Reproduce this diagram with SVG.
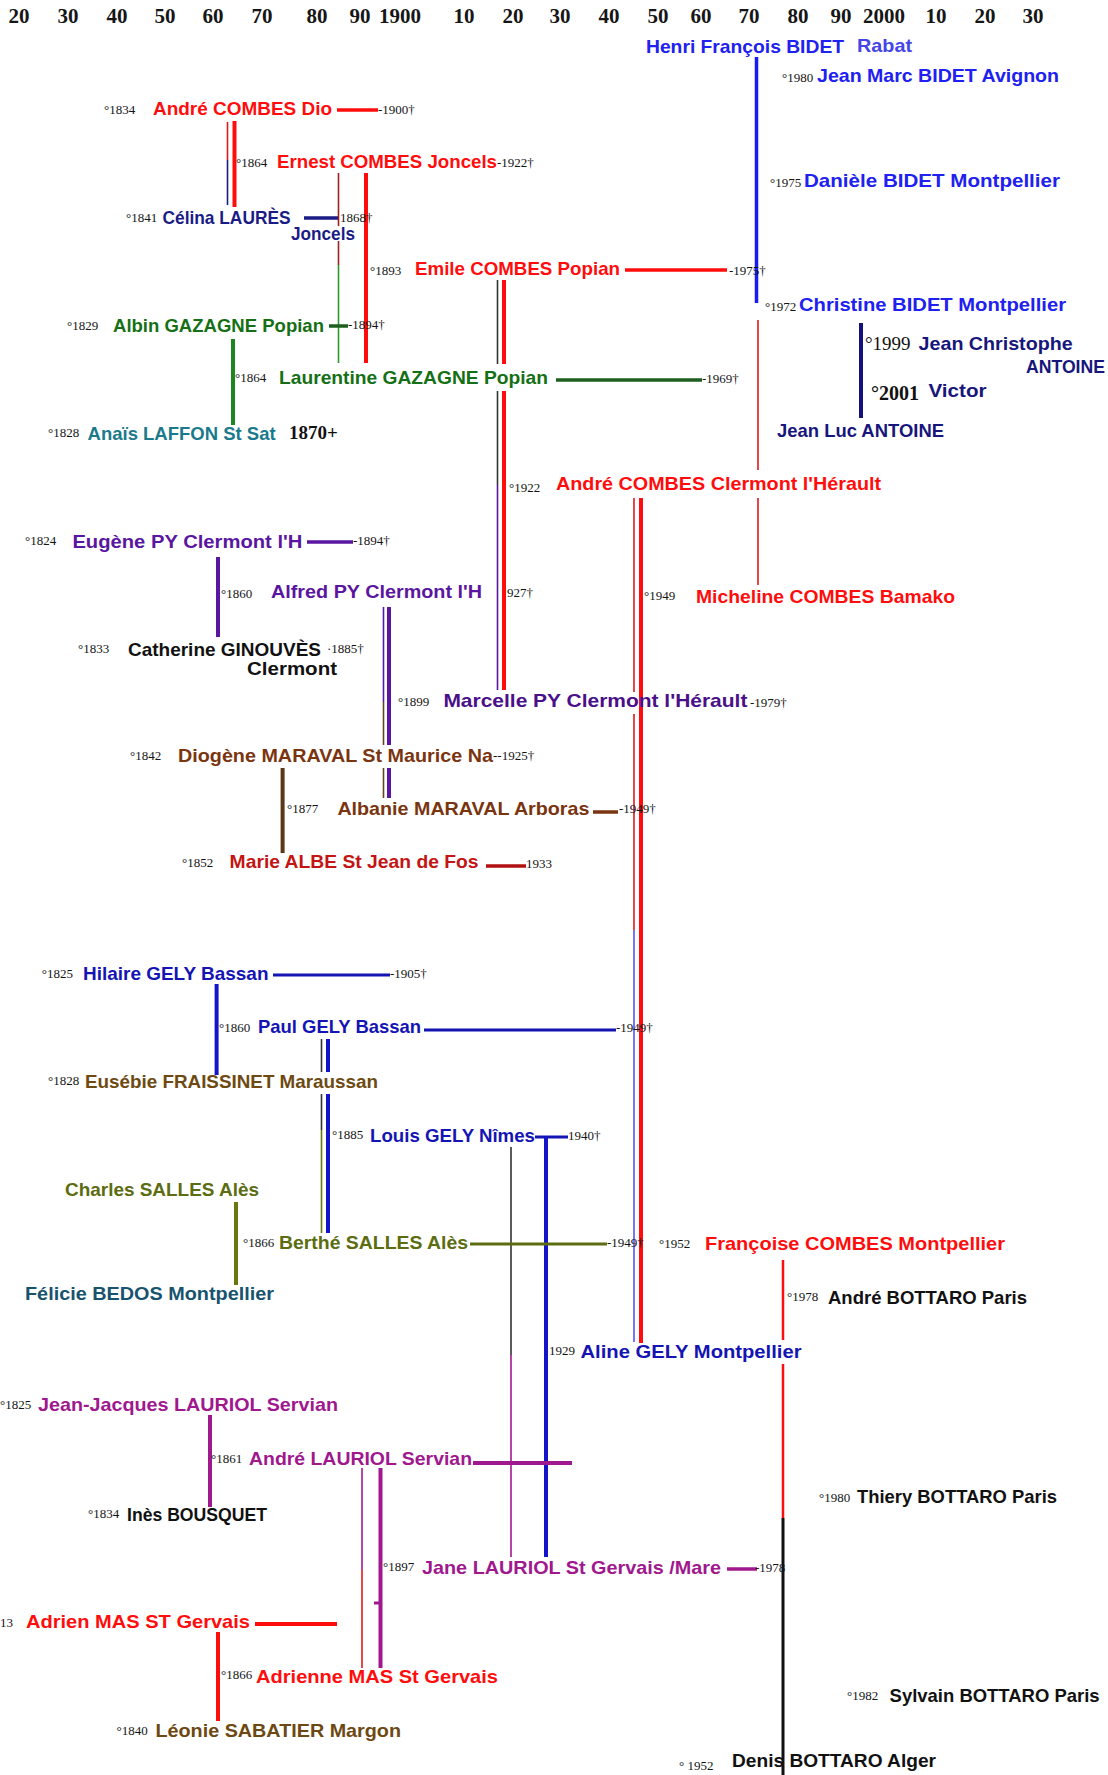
<svg xmlns="http://www.w3.org/2000/svg" width="1108" height="1775" viewBox="0 0 1108 1775">
<style>
.n{font-family:"Liberation Sans",Arial,sans-serif;font-weight:bold;font-size:18.5px}
.d{font-family:"Liberation Serif","Times New Roman",serif;font-size:13px;fill:#141414}
.big{font-family:"Liberation Serif","Times New Roman",serif;font-size:20px;fill:#111}
.yr{font-family:"Liberation Serif","Times New Roman",serif;font-weight:bold;font-size:21px;fill:#161616;text-anchor:middle}
.red{fill:#ff0d0d}.navy{fill:#1b1b86}.blue{fill:#2020f0}.rabat{fill:#4545e8}.dnavy{fill:#16167c}
.green{fill:#157015}.teal{fill:#1a7a8c}.purple{fill:#5a16a0}.purple2{fill:#4a108a}.brown{fill:#7a3510}
.dred{fill:#c41414}.gblue{fill:#1414b4}.ebrown{fill:#6e4a12}.olive{fill:#5c6c10}.dteal{fill:#17536e}
.mag{fill:#a0188e}.blk{fill:#111}.lbrown{fill:#6d4812}
line{stroke-linecap:butt;fill:none}
.lr{stroke:#ff0d0d;stroke-width:4}
.lrt{stroke:#e01818;stroke-width:1.6}
.lnv{stroke:#1b1b86;stroke-width:3.5}
.lnvt{stroke:#1b1b86;stroke-width:1.6}
.lb{stroke:#1a1af5;stroke-width:3.5}
.lbt{stroke:#3a3aff;stroke-width:1.4}
.lg{stroke:#1e861e;stroke-width:4}
.lgt{stroke:#2a9a2a;stroke-width:1.6}
.lgd{stroke:#1e5e1e;stroke-width:3.5}
.lk{stroke:#333;stroke-width:1.6}
.lp{stroke:#5a16a0;stroke-width:4}
.lpt{stroke:#5a16a0;stroke-width:1.6}
.lbr{stroke:#5a3818;stroke-width:4}
.lbrt{stroke:#6a4418;stroke-width:1.6}
.lbr2{stroke:#7a3510;stroke-width:3.5}
.ldr{stroke:#b01010;stroke-width:3.5}
.lgb{stroke:#1414b4;stroke-width:3.2}
.lgb4{stroke:#1414c8;stroke-width:4}
.lo{stroke:#667a10;stroke-width:4}
.lot{stroke:#667a10;stroke-width:1.6}
.lo3{stroke:#5c6c10;stroke-width:3}
.lm{stroke:#a0188e;stroke-width:4}
.lmt{stroke:#a0188e;stroke-width:1.6}
.lblk{stroke:#111;stroke-width:3}
</style>

<g id="axis">
<text class="yr" x="19" y="23">20</text>
<text class="yr" x="68" y="23">30</text>
<text class="yr" x="117" y="23">40</text>
<text class="yr" x="165" y="23">50</text>
<text class="yr" x="213" y="23">60</text>
<text class="yr" x="262" y="23">70</text>
<text class="yr" x="317" y="23">80</text>
<text class="yr" x="360" y="23">90</text>
<text class="yr" x="400" y="23">1900</text>
<text class="yr" x="464" y="23">10</text>
<text class="yr" x="513" y="23">20</text>
<text class="yr" x="560" y="23">30</text>
<text class="yr" x="609" y="23">40</text>
<text class="yr" x="658" y="23">50</text>
<text class="yr" x="701" y="23">60</text>
<text class="yr" x="749" y="23">70</text>
<text class="yr" x="798" y="23">80</text>
<text class="yr" x="841" y="23">90</text>
<text class="yr" x="884" y="23">2000</text>
<text class="yr" x="936" y="23">10</text>
<text class="yr" x="985" y="23">20</text>
<text class="yr" x="1033" y="23">30</text>
</g>

<g id="connectors">
<line class="lr" x1="337" y1="110" x2="378" y2="110" style="stroke-width:3.5"/>
<line class="lrt" x1="227.5" y1="122" x2="227.5" y2="160"/>
<line class="lnvt" x1="227.5" y1="160" x2="227.5" y2="205"/>
<line class="lr" x1="234.5" y1="121" x2="234.5" y2="207"/>
<line class="lnv" x1="304" y1="218" x2="339" y2="218"/>
<line class="lrt" x1="338.5" y1="173" x2="338.5" y2="226" style="stroke:#a02020"/>
<line class="lrt" x1="338.5" y1="241" x2="338.5" y2="265" style="stroke:#a02020"/>
<line class="lgt" x1="338.5" y1="265" x2="338.5" y2="363"/>
<line class="lr" x1="366" y1="173" x2="366" y2="363"/>
<line class="lr" x1="625" y1="270" x2="727" y2="270" style="stroke-width:3.5"/>
<line class="lb" x1="756.5" y1="57" x2="756.5" y2="303"/>
<line class="lrt" x1="758" y1="320" x2="758" y2="470"/>
<line class="lrt" x1="758" y1="498" x2="758" y2="585"/>
<line class="lnv" x1="861" y1="323" x2="861" y2="418" style="stroke:#12127a;stroke-width:4"/>
<line class="lgd" x1="329" y1="326" x2="348" y2="326"/>
<line class="lg" x1="233" y1="339" x2="233" y2="425"/>
<line class="lgd" x1="556" y1="380" x2="702" y2="380"/>
<line class="lk" x1="497.5" y1="280" x2="497.5" y2="364"/>
<line class="lk" x1="497.5" y1="391" x2="497.5" y2="485"/>
<line class="lpt" x1="497.5" y1="485" x2="497.5" y2="690"/>
<line class="lr" x1="504" y1="280" x2="504" y2="364"/>
<line class="lr" x1="504" y1="391" x2="504" y2="690"/>
<line class="lp" x1="307" y1="542" x2="353" y2="542" style="stroke-width:3.5"/>
<line class="lp" x1="218" y1="557" x2="218" y2="637"/>
<line class="lpt" x1="383.5" y1="607" x2="383.5" y2="702"/>
<line class="lbrt" x1="383.5" y1="702" x2="383.5" y2="745"/>
<line class="lbrt" x1="383.5" y1="768" x2="383.5" y2="798"/>
<line class="lp" x1="389" y1="607" x2="389" y2="745"/>
<line class="lp" x1="389" y1="768" x2="389" y2="798"/>
<line class="lrt" x1="634" y1="498" x2="634" y2="692"/>
<line class="lrt" x1="634" y1="714" x2="634" y2="930"/>
<line class="lbt" x1="634" y1="930" x2="634" y2="1342"/>
<line class="lr" x1="641" y1="498" x2="641" y2="1343"/>
<line class="lbr" x1="282.6" y1="768" x2="282.6" y2="853"/>
<line class="lbr2" x1="593" y1="812" x2="618" y2="812"/>
<line class="ldr" x1="486" y1="866" x2="526" y2="866"/>
<line class="lgb" x1="273" y1="975" x2="390" y2="975"/>
<line class="lgb4" x1="216.6" y1="984" x2="216.6" y2="1075"/>
<line class="lgb" x1="424" y1="1030" x2="616" y2="1030"/>
<line class="lk" x1="321.5" y1="1039" x2="321.5" y2="1072"/>
<line class="lk" x1="321.5" y1="1094" x2="321.5" y2="1130"/>
<line class="lot" x1="321.5" y1="1130" x2="321.5" y2="1233"/>
<line class="lgb4" x1="328" y1="1039" x2="328" y2="1072"/>
<line class="lgb4" x1="328" y1="1094" x2="328" y2="1233"/>
<line class="lgb" x1="535" y1="1137" x2="568" y2="1137"/>
<line class="lk" x1="511" y1="1147" x2="511" y2="1355"/>
<line class="lmt" x1="511" y1="1355" x2="511" y2="1557"/>
<line class="lgb4" x1="546" y1="1137" x2="546" y2="1557"/>
<line class="lo" x1="236" y1="1202" x2="236" y2="1285"/>
<line class="lo3" x1="470" y1="1244" x2="607" y2="1244"/>
<line class="lm" x1="210" y1="1415" x2="210" y2="1507"/>
<line class="lm" x1="473" y1="1463" x2="572" y2="1463"/>
<line class="lmt" x1="362" y1="1468" x2="362" y2="1570"/>
<line class="lrt" x1="362" y1="1570" x2="362" y2="1668"/>
<line class="lm" x1="380.5" y1="1468" x2="380.5" y2="1668"/>
<line class="lm" x1="374" y1="1603" x2="381" y2="1603" style="stroke-width:3"/>
<line class="lm" x1="727" y1="1569" x2="757" y2="1569" style="stroke-width:3.5"/>
<line class="lr" x1="255" y1="1624" x2="337" y2="1624"/>
<line class="lr" x1="218" y1="1632" x2="218" y2="1721"/>
<line class="lr" x1="783" y1="1260" x2="783" y2="1340" style="stroke-width:2.5"/>
<line class="lr" x1="783" y1="1364" x2="783" y2="1518" style="stroke-width:2.5"/>
<line class="lblk" x1="783" y1="1518" x2="783" y2="1775"/>
</g>

<g id="andre-combes-dio"><text class="d" x="104" y="114">°1834</text><text class="n red" x="153" y="115" textLength="179" lengthAdjust="spacingAndGlyphs">André COMBES  Dio</text><text class="d" x="378" y="114">-1900†</text></g>
<g id="ernest-combes"><text class="d" x="236" y="167">°1864</text><text class="n red" x="277" y="168" textLength="220" lengthAdjust="spacingAndGlyphs">Ernest COMBES Joncels</text><text class="d" x="497" y="167">-1922†</text></g>
<g id="celina-laures"><text class="d" x="126" y="222">°1841</text><text class="n navy" x="162.5" y="224" textLength="128" lengthAdjust="spacingAndGlyphs">Célina LAURÈS</text><text class="d" x="340" y="222">1868†</text><text class="n navy" x="291" y="240" textLength="64" lengthAdjust="spacingAndGlyphs">Joncels</text></g>
<g id="emile-combes"><text class="d" x="370" y="275">°1893</text><text class="n red" x="415" y="275" textLength="205" lengthAdjust="spacingAndGlyphs">Emile COMBES Popian</text><text class="d" x="729" y="275">-1975†</text></g>
<g id="henri-bidet"><text class="n blue" x="646" y="53" textLength="198" lengthAdjust="spacingAndGlyphs">Henri François BIDET</text><text class="n rabat" x="857" y="52" textLength="55" lengthAdjust="spacingAndGlyphs">Rabat</text></g>
<g id="jean-marc-bidet"><text class="d" x="782" y="82">°1980</text><text class="n blue" x="817" y="82" textLength="242" lengthAdjust="spacingAndGlyphs">Jean Marc BIDET Avignon</text></g>
<g id="daniele-bidet"><text class="d" x="770" y="187">°1975</text><text class="n blue" x="804" y="187" textLength="256" lengthAdjust="spacingAndGlyphs">Danièle BIDET  Montpellier</text></g>
<g id="christine-bidet"><text class="d" x="765" y="311">°1972</text><text class="n blue" x="799" y="311" textLength="267" lengthAdjust="spacingAndGlyphs">Christine BIDET  Montpellier</text></g>
<g id="jean-christophe-antoine"><text class="big" x="865" y="350" style="font-size:19px">°1999</text><text class="n dnavy" x="918.6" y="350" textLength="154" lengthAdjust="spacingAndGlyphs">Jean Christophe</text><text class="n dnavy" x="1026" y="373" textLength="79" lengthAdjust="spacingAndGlyphs">ANTOINE</text></g>
<g id="victor-antoine"><text class="big" x="871" y="400" style="font-size:20px;font-weight:bold">°2001</text><text class="n dnavy" x="928.5" y="397" textLength="58" lengthAdjust="spacingAndGlyphs">Victor</text></g>
<g id="jean-luc-antoine"><text class="n dnavy" x="777" y="437" textLength="167" lengthAdjust="spacingAndGlyphs">Jean Luc ANTOINE</text></g>
<g id="albin-gazagne"><text class="d" x="67" y="330">°1829</text><text class="n green" x="113" y="332" textLength="211" lengthAdjust="spacingAndGlyphs">Albin GAZAGNE Popian</text><text class="d" x="348" y="329">-1894†</text></g>
<g id="laurentine-gazagne"><text class="d" x="235" y="382">°1864</text><text class="n green" x="279" y="384" textLength="269" lengthAdjust="spacingAndGlyphs">Laurentine GAZAGNE Popian</text><text class="d" x="702" y="383">-1969†</text></g>
<g id="anais-laffon"><text class="d" x="48" y="437">°1828</text><text class="n teal" x="87.6" y="440" textLength="188" lengthAdjust="spacingAndGlyphs">Anaïs LAFFON  St Sat</text><text class="big" x="289" y="439" style="font-size:19px;font-weight:bold">1870+</text></g>
<g id="andre-combes-clermont"><text class="d" x="509" y="492">°1922</text><text class="n red" x="556" y="490" textLength="325" lengthAdjust="spacingAndGlyphs">André COMBES Clermont l'Hérault</text></g>
<g id="eugene-py"><text class="d" x="25" y="545">°1824</text><text class="n purple" x="72.4" y="548" textLength="230" lengthAdjust="spacingAndGlyphs">Eugène PY Clermont  l'H</text><text class="d" x="353" y="545">-1894†</text></g>
<g id="alfred-py"><text class="d" x="221" y="598">°1860</text><text class="n purple" x="271" y="598" textLength="211" lengthAdjust="spacingAndGlyphs">Alfred PY Clermont l'H</text><text class="d" x="507" y="597">927†</text></g>
<g id="micheline-combes"><text class="d" x="644" y="600">°1949</text><text class="n red" x="696" y="603" textLength="259" lengthAdjust="spacingAndGlyphs">Micheline COMBES Bamako</text></g>
<g id="catherine-ginouves"><text class="d" x="78" y="653">°1833</text><text class="n blk" x="128" y="656" textLength="193" lengthAdjust="spacingAndGlyphs">Catherine GINOUVÈS</text><text class="d" x="327" y="653">·1885†</text><text class="n blk" x="247" y="675" textLength="90" lengthAdjust="spacingAndGlyphs">Clermont</text></g>
<g id="marcelle-py"><text class="d" x="398" y="706">°1899</text><text class="n purple2" x="443.4" y="707" textLength="304" lengthAdjust="spacingAndGlyphs">Marcelle PY Clermont  l'Hérault</text><text class="d" x="750" y="707">-1979†</text></g>
<g id="diogene-maraval"><text class="d" x="130" y="760">°1842</text><text class="n brown" x="178" y="762" textLength="315" lengthAdjust="spacingAndGlyphs">Diogène MARAVAL St Maurice Na</text><text class="d" x="493" y="760">--1925†</text></g>
<g id="albanie-maraval"><text class="d" x="287" y="813">°1877</text><text class="n brown" x="337.4" y="815" textLength="252" lengthAdjust="spacingAndGlyphs">Albanie MARAVAL Arboras</text><text class="d" x="619" y="813">-1949†</text></g>
<g id="marie-albe"><text class="d" x="182" y="867">°1852</text><text class="n dred" x="229.6" y="868" textLength="249" lengthAdjust="spacingAndGlyphs">Marie ALBE St Jean de Fos</text><text class="d" x="526" y="868">1933</text></g>
<g id="hilaire-gely"><text class="d" x="41.7" y="978">°1825</text><text class="n gblue" x="83" y="980" textLength="185.5" lengthAdjust="spacingAndGlyphs">Hilaire GELY Bassan</text><text class="d" x="390" y="978">-1905†</text></g>
<g id="paul-gely"><text class="d" x="219" y="1032">°1860</text><text class="n gblue" x="258" y="1033" textLength="163" lengthAdjust="spacingAndGlyphs">Paul GELY Bassan</text><text class="d" x="616" y="1032">-1949†</text></g>
<g id="eusebie-fraissinet"><text class="d" x="48" y="1085">°1828</text><text class="n ebrown" x="85" y="1088" textLength="293" lengthAdjust="spacingAndGlyphs">Eusébie FRAISSINET Maraussan</text></g>
<g id="louis-gely"><text class="d" x="332" y="1139">°1885</text><text class="n gblue" x="370" y="1142" textLength="165" lengthAdjust="spacingAndGlyphs">Louis GELY Nîmes</text><text class="d" x="568" y="1140">1940†</text></g>
<g id="charles-salles"><text class="n olive" x="65" y="1196" textLength="194" lengthAdjust="spacingAndGlyphs">Charles SALLES  Alès</text></g>
<g id="berthe-salles"><text class="d" x="243" y="1247">°1866</text><text class="n olive" x="279" y="1249" textLength="189" lengthAdjust="spacingAndGlyphs">Berthé SALLES  Alès</text><text class="d" x="607" y="1247">-1949†</text></g>
<g id="felicie-bedos"><text class="n dteal" x="25" y="1300" textLength="249" lengthAdjust="spacingAndGlyphs">Félicie BEDOS Montpellier</text></g>
<g id="francoise-combes"><text class="d" x="659" y="1248">°1952</text><text class="n red" x="705" y="1250" textLength="300" lengthAdjust="spacingAndGlyphs">Françoise COMBES  Montpellier</text></g>
<g id="andre-bottaro"><text class="d" x="787" y="1301">°1978</text><text class="n blk" x="828" y="1304" textLength="199" lengthAdjust="spacingAndGlyphs">André BOTTARO Paris</text></g>
<g id="aline-gely"><text class="d" x="549" y="1355">1929</text><text class="n gblue" x="580.5" y="1358" textLength="221" lengthAdjust="spacingAndGlyphs">Aline GELY Montpellier</text></g>
<g id="jean-jacques-lauriol"><text class="d" x="0" y="1409">°1825</text><text class="n mag" x="38" y="1411" textLength="300" lengthAdjust="spacingAndGlyphs">Jean-Jacques LAURIOL  Servian</text></g>
<g id="andre-lauriol"><text class="d" x="211" y="1463">°1861</text><text class="n mag" x="249" y="1465" textLength="223" lengthAdjust="spacingAndGlyphs">André LAURIOL Servian</text></g>
<g id="thiery-bottaro"><text class="d" x="819" y="1502">°1980</text><text class="n blk" x="857" y="1503" textLength="200" lengthAdjust="spacingAndGlyphs">Thiery BOTTARO Paris</text></g>
<g id="ines-bousquet"><text class="d" x="88" y="1518">°1834</text><text class="n blk" x="127" y="1521" textLength="140" lengthAdjust="spacingAndGlyphs">Inès BOUSQUET</text></g>
<g id="jane-lauriol"><text class="d" x="383" y="1571">°1897</text><text class="n mag" x="422" y="1574" textLength="299" lengthAdjust="spacingAndGlyphs">Jane LAURIOL  St Gervais /Mare</text><text class="d" x="755" y="1572">-1978</text></g>
<g id="adrien-mas"><text class="d" x="0" y="1627">13</text><text class="n red" x="26" y="1628" textLength="224" lengthAdjust="spacingAndGlyphs">Adrien  MAS  ST Gervais</text></g>
<g id="adrienne-mas"><text class="d" x="221" y="1679">°1866</text><text class="n red" x="256" y="1683" textLength="242" lengthAdjust="spacingAndGlyphs">Adrienne MAS  St Gervais</text></g>
<g id="sylvain-bottaro"><text class="d" x="847" y="1700">°1982</text><text class="n blk" x="889.6" y="1702" textLength="210" lengthAdjust="spacingAndGlyphs">Sylvain BOTTARO Paris</text></g>
<g id="leonie-sabatier"><text class="d" x="116.6" y="1735">°1840</text><text class="n lbrown" x="155.5" y="1737" textLength="245.5" lengthAdjust="spacingAndGlyphs">Léonie SABATIER  Margon</text></g>
<g id="denis-bottaro"><text class="d" x="679" y="1770">° 1952</text><text class="n blk" x="732" y="1767" textLength="204" lengthAdjust="spacingAndGlyphs">Denis BOTTARO  Alger</text></g>
</svg>
